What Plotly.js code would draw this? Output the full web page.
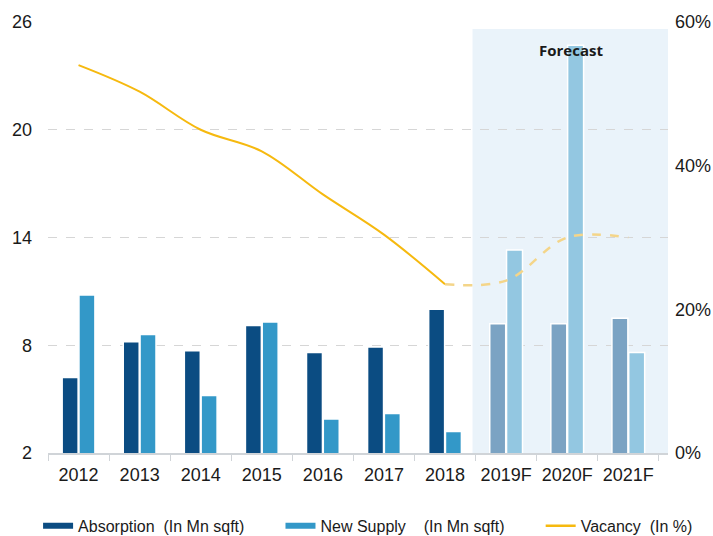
<!DOCTYPE html>
<html>
<head>
<meta charset="utf-8">
<script src="https://cdn.plot.ly/plotly-3.0.1.min.js"></script>
<style>html,body{margin:0;padding:0;background:#fff;}#chart{width:713px;height:536px;}</style>
</head>
<body>
<div id="chart"></div>
<script>
// ---- data ----
var categories = ['2012','2013','2014','2015','2016','2017','2018','2019F','2020F','2021F'];
var absorption = [6.2, 8.2, 7.7, 9.1, 7.6, 7.9, 10.0, 9.2, 9.2, 9.5];
var newSupply  = [10.8, 8.6, 5.2, 9.3, 3.9, 4.2, 3.2, 13.3, 24.7, 7.6];
var vacancy    = [54, 50.3, 45, 42, 36, 30.4, 23.5, 24, 30, 30];
var leftTicks  = [2, 8, 14, 20, 26];
var rightTicks = [0, 20, 40, 60];

var isF = categories.map(function(c){return /F$/.test(c);});
var lastActual = isF.indexOf(true) - 1;

var absColors = isF.map(function(f){return f ? '#7ba3c3' : '#0b4c82';});
var supColors = isF.map(function(f){return f ? '#93c7e1' : '#3398c8';});

var vacSolid = vacancy.map(function(v,i){return i <= lastActual ? v : null;});
var vacDash  = vacancy.map(function(v,i){return i >= lastActual ? v : null;});

var font = 'Liberation Sans, Arial, sans-serif';
var pad = '\u00a0\u00a0\u00a0\u00a0\u00a0\u00a0\u00a0';

var traces = [
  {type:'bar', name:'Absorption', showlegend:false, x:categories, y:absorption,
   marker:{color:absColors, line:{color:'#ffffff', width:1.5}}, yaxis:'y'},
  {type:'bar', name:'New Supply', showlegend:false, x:categories, y:newSupply,
   marker:{color:supColors, line:{color:'#ffffff', width:1.5}}, yaxis:'y'},
  {type:'scatter', mode:'lines', name:'Vacancy', showlegend:false, x:categories, y:vacSolid,
   line:{color:'#f6b90f', width:2, shape:'spline', smoothing:1}, yaxis:'y2', connectgaps:false},
  {type:'scatter', mode:'lines', name:'Vacancy forecast', showlegend:false, x:categories, y:vacDash,
   line:{color:'#f4d589', width:2.5, dash:'dash', shape:'spline', smoothing:1}, yaxis:'y2', connectgaps:false},
  // legend entries (drawn as wide bars like the reference)
  {type:'scatter', mode:'lines', name:'Absorption\u00a0\u00a0(In Mn sqft)' + pad, x:[null], y:[null],
   line:{color:'#0b4c82', width:6}, yaxis:'y'},
  {type:'scatter', mode:'lines', name:'New Supply\u00a0\u00a0\u00a0\u00a0(In Mn sqft)' + pad, x:[null], y:[null],
   line:{color:'#3398c8', width:6}, yaxis:'y'},
  {type:'scatter', mode:'lines', name:'Vacancy\u00a0\u00a0(In %)', x:[null], y:[null],
   line:{color:'#f6b90f', width:2.5}, yaxis:'y'}
];

var layout = {
  width:713, height:536,
  margin:{l:48, r:45, t:22, b:83, autoexpand:false},
  paper_bgcolor:'#ffffff', plot_bgcolor:'#ffffff',
  font:{family:font, size:18, color:'#1a1a1a'},
  barmode:'group', bargap:0.45, bargroupgap:0.05,
  showlegend:true,
  legend:{orientation:'h', xref:'paper', yref:'paper', x:-0.016, xanchor:'left',
          y:-0.169, yanchor:'middle', font:{family:font, size:16, color:'#1a1a1a'},
          traceorder:'normal', bgcolor:'rgba(0,0,0,0)'},
  xaxis:{type:'category', range:[-0.5, 9.65], showgrid:false, showline:true, linecolor:'#d0d4d8', linewidth:1.5,
         ticks:'outside', tickson:'boundaries', ticklen:6, tickcolor:'#d0d4d8', ticklabelstandoff:5,
         tickfont:{family:font, size:18, color:'#1a1a1a'}, fixedrange:true},
  yaxis:{range:[2,26], tickvals:leftTicks, ticktext:leftTicks.map(String), showgrid:true,
         gridcolor:'#d6d6d6', griddash:'dash', gridwidth:1, zeroline:false, showline:false,
         ticks:'', tickfont:{family:font, size:18, color:'#1a1a1a'}, ticklabelstandoff:15},
  yaxis2:{overlaying:'y', side:'right', range:[0,60], tickvals:rightTicks,
          ticktext:rightTicks.map(function(v){return v+'%';}), showgrid:false, zeroline:false,
          showline:false, ticks:'', ticklabelstandoff:6, tickfont:{family:font, size:18, color:'#1a1a1a'}},
  shapes:[
    {type:'rect', xref:'x', yref:'paper', x0:lastActual + 0.5 - 0.05, x1:9.72, y0:0, y1:0.984,
     fillcolor:'#eaf3fa', line:{width:0}, layer:'below'}
  ],
  annotations:[
    {text:'<b>Forecast</b>', xref:'x', yref:'paper', x:8.07, y:0.935, xanchor:'center', yanchor:'middle',
     showarrow:false, font:{family:'Open Sans, Liberation Sans, sans-serif', size:15, color:'#1a1a1a'}}
  ]
};

Plotly.newPlot('chart', traces, layout, {displayModeBar:false, staticPlot:true});
</script>
</body>
</html>
